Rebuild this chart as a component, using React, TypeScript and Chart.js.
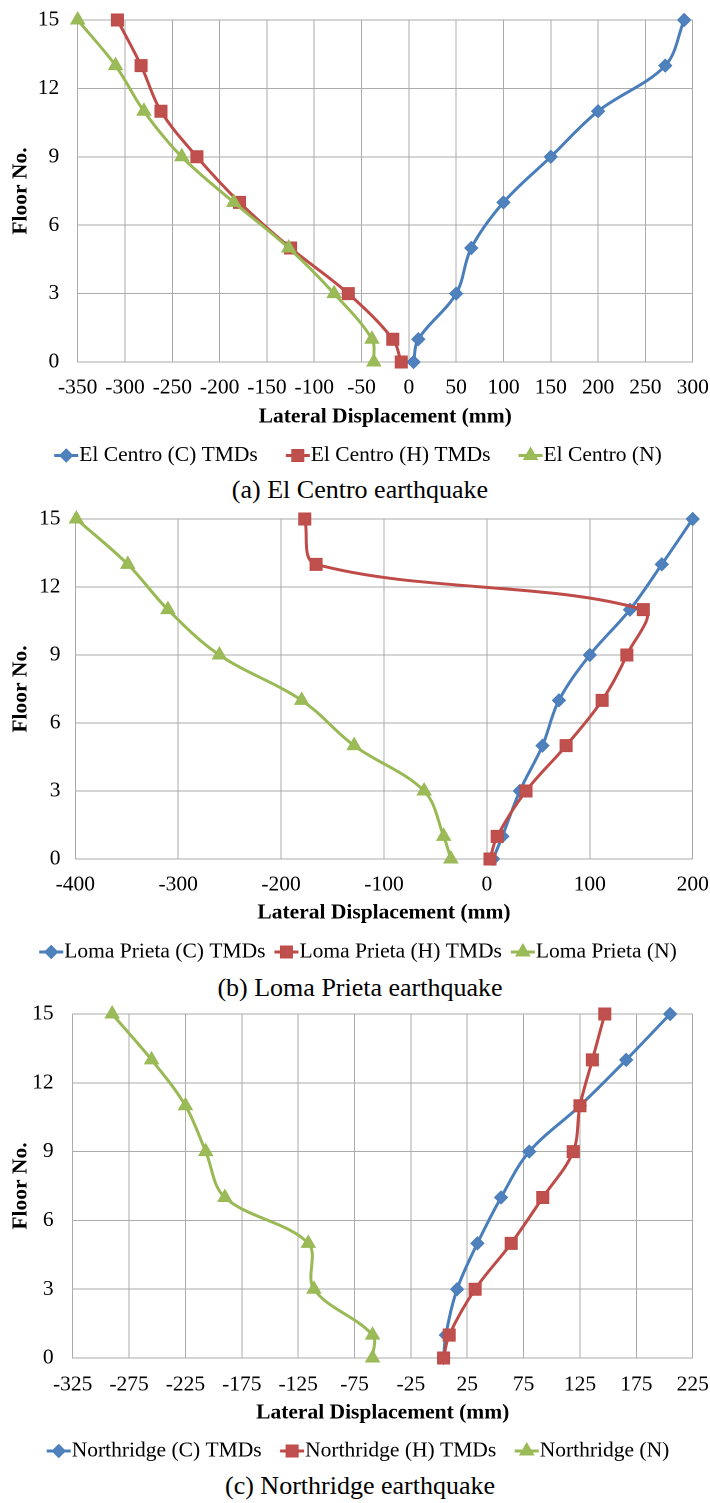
import React, { useEffect, useRef } from 'react';
import { Chart, registerables } from 'chart.js';

Chart.register(...registerables);

const FONT = "'Liberation Serif', 'Times New Roman', serif";
const PAGE_W = 710;

// ---------- data ----------
const floors = [0, 1, 3, 5, 7, 9, 11, 13, 15];
const yTicks = [0, 3, 6, 9, 12, 15];

const elCentroLabels = ['El Centro (C) TMDs', 'El Centro (H) TMDs', 'El Centro (N)'];
const elCentroC = [5, 10, 50, 66, 100, 150, 200, 271, 291];
const elCentroH = [-8, -17, -64, -125, -179, -224, -262, -283, -308];
const elCentroN = [-37, -39, -79, -127, -185, -240, -280, -310, -350];
const elCentroTicks = [-350, -300, -250, -200, -150, -100, -50, 0, 50, 100, 150, 200, 250, 300];

const lomaLabels = ['Loma Prieta (C) TMDs', 'Loma Prieta (H) TMDs', 'Loma Prieta (N)'];
const lomaC = [6, 15, 32, 54, 70, 100, 139, 170, 200];
const lomaH = [3, 10, 38, 77, 112, 136, 152, -166, -177];
const lomaN = [-35, -42, -61, -129, -180, -260, -310, -349, -399];
const lomaTicks = [-400, -300, -200, -100, 0, 100, 200];

const northLabels = ['Northridge (C) TMDs', 'Northridge (H) TMDs', 'Northridge (N)'];
const northC = [4, 6, 16, 34, 55, 80, 125, 166, 205];
const northH = [4, 9, 32, 64, 92, 119, 125, 136, 147];
const northN = [-59, -59, -111, -116, -190, -207, -225, -255, -290];
const northTicks = [-325, -275, -225, -175, -125, -75, -25, 25, 75, 125, 175, 225];

const xTitle = 'Lateral Displacement (mm)';
const yTitle = 'Floor No.';

// ---------- styles ----------
const seriesLine = ['#4A7EBB', '#BE4B48', '#98B954'];
const seriesFill = ['#4F81BD', '#C0504D', '#9BBB59'];
const seriesMarker = ['rectRot', 'rect', 'triangle'];
const seriesRadius = [6.5, 8.5, 8];
const GRID = '#ABABAB';
const FS = 21.5;
const HALF_LH = (FS * 1.2) / 2;

function drawMarker(ctx: CanvasRenderingContext2D, style: string, x: number, y: number, r: number) {
  ctx.beginPath();
  if (style === 'rectRot') {
    ctx.moveTo(x - r, y);
    ctx.lineTo(x, y - r);
    ctx.lineTo(x + r, y);
    ctx.lineTo(x, y + r);
    ctx.closePath();
  } else if (style === 'rect') {
    const s = r * Math.SQRT1_2;
    ctx.rect(x - s, y - s, 2 * s, 2 * s);
  } else {
    const a = (2 * Math.PI) / 3;
    ctx.moveTo(x, y - r);
    ctx.lineTo(x + r * Math.sin(a), y - r * Math.cos(a));
    ctx.lineTo(x + r * Math.sin(2 * a), y - r * Math.cos(2 * a));
    ctx.closePath();
  }
  ctx.fill();
  ctx.stroke();
}

const legendPlugin = {
  id: 'excelLegend',
  afterDraw(chart: any, _args: any, opts: any) {
    const ctx: CanvasRenderingContext2D = chart.ctx;
    const stub = 24;
    ctx.save();
    ctx.font = `${FS}px ${FONT}`;
    ctx.textBaseline = 'middle';
    ctx.textAlign = 'left';
    const items = chart.data.datasets.map((ds: any) => ({
      ds,
      w: stub + 1 + ctx.measureText(ds.label).width,
    }));
    const total = items.reduce((s: number, it: any) => s + it.w, 0) + opts.gap * (items.length - 1);
    let x = opts.cx - total / 2;
    const y = opts.y;
    items.forEach((it: any) => {
      const ds = it.ds;
      ctx.strokeStyle = ds.borderColor;
      ctx.lineWidth = 3;
      ctx.beginPath();
      ctx.moveTo(x, y);
      ctx.lineTo(x + stub, y);
      ctx.stroke();
      ctx.fillStyle = ds.pointBackgroundColor;
      ctx.strokeStyle = ds.pointBorderColor;
      ctx.lineWidth = 1;
      drawMarker(ctx, ds.pointStyle, x + stub / 2, y, ds.pointRadius);
      ctx.fillStyle = '#000';
      ctx.fillText(ds.label, x + stub + 1, y);
      x += it.w + opts.gap;
    });
    ctx.restore();
  },
};

type BlockCfg = {
  series: number[][];
  labels: string[];
  xMin: number;
  xMax: number;
  xTicks: number[];
  caption: string;
  top: number;
  plotTop: number;
  plotBottom: number;
  labelY: number;
  titleY: number;
  legendY: number;
  captionY: number;
  yW: number;
  yTickPad: number;
  legendGap: number;
};

const blocks: BlockCfg[] = [
  {
    series: [elCentroC, elCentroH, elCentroN], labels: elCentroLabels,
    xMin: -350, xMax: 300, xTicks: elCentroTicks, caption: '(a) El Centro earthquake',
    top: 0, plotTop: 20, plotBottom: 362, labelY: 388, titleY: 417, legendY: 455.5, captionY: 490,
    yW: 77.7, yTickPad: 18.4, legendGap: 28,
  },
  {
    series: [lomaC, lomaH, lomaN], labels: lomaLabels,
    xMin: -400, xMax: 200, xTicks: lomaTicks, caption: '(b) Loma Prieta earthquake',
    top: 499, plotTop: 519, plotBottom: 859, labelY: 885, titleY: 913, legendY: 952, captionY: 988,
    yW: 75.3, yTickPad: 14.8, legendGap: 9,
  },
  {
    series: [northC, northH, northN], labels: northLabels,
    xMin: -325, xMax: 225, xTicks: northTicks, caption: '(c) Northridge earthquake',
    top: 994, plotTop: 1014, plotBottom: 1358, labelY: 1385, titleY: 1413, legendY: 1451, captionY: 1486,
    yW: 72.7, yTickPad: 19.1, legendGap: 18.5,
  },
];

function zeroPadding(s: any) {
  s.paddingTop = 0;
  s.paddingBottom = 0;
  s.paddingLeft = 0;
  s.paddingRight = 0;
}

function ChartBlock({ cfg }: { cfg: BlockCfg }) {
  const ref = useRef<HTMLCanvasElement | null>(null);
  const height = Math.round(cfg.legendY + 17 - cfg.top);
  const xAxisH = cfg.titleY - cfg.plotBottom + HALF_LH;
  const xTickPad = cfg.labelY - cfg.plotBottom - HALF_LH;
  const padTop = cfg.plotTop - cfg.top;
  const padBottom = height - (cfg.plotBottom - cfg.top) - xAxisH;

  useEffect(() => {
    if (!ref.current) return;
    Chart.defaults.font.family = FONT;
    Chart.defaults.color = '#000';
    const chart = new Chart(ref.current, {
      type: 'scatter',
      data: {
        datasets: cfg.series.map((vals, i) => ({
          label: cfg.labels[i],
          data: floors.map((f, k) => ({ x: vals[k], y: f })),
          showLine: true,
          borderColor: seriesLine[i],
          backgroundColor: seriesFill[i],
          borderWidth: 3,
          tension: 0.35,
          pointStyle: seriesMarker[i] as any,
          pointRadius: seriesRadius[i],
          pointHoverRadius: seriesRadius[i],
          pointBackgroundColor: seriesFill[i],
          pointBorderColor: seriesLine[i],
          pointBorderWidth: 1,
          clip: false as any,
          order: 2 - i,
        })),
      },
      options: {
        animation: false,
        responsive: false,
        devicePixelRatio: 2,
        layout: { padding: { top: padTop, right: PAGE_W - 692.7, bottom: padBottom, left: 0 } },
        plugins: {
          legend: { display: false },
          tooltip: { enabled: false },
          excelLegend: { cx: 358, y: cfg.legendY - cfg.top, gap: cfg.legendGap },
        } as any,
        scales: {
          x: {
            type: 'linear',
            min: cfg.xMin,
            max: cfg.xMax,
            afterBuildTicks: (s: any) => {
              s.ticks = cfg.xTicks.map((v) => ({ value: v }));
            },
            afterFit: (s: any) => {
              s.height = xAxisH;
              zeroPadding(s);
            },
            grid: { color: GRID, lineWidth: 1, drawTicks: false },
            border: { color: GRID, width: 1 },
            ticks: {
              padding: xTickPad,
              font: { size: FS, family: FONT },
              color: '#000',
              maxRotation: 0,
              autoSkip: false,
              callback: (v: any) => String(v),
            },
            title: {
              display: true,
              text: xTitle,
              color: '#000',
              font: { size: FS, weight: 'bold', family: FONT },
              padding: { top: 0, bottom: 0 },
            },
          },
          y: {
            type: 'linear',
            min: 0,
            max: 15,
            afterBuildTicks: (s: any) => {
              s.ticks = yTicks.map((v) => ({ value: v }));
            },
            afterFit: (s: any) => {
              s.width = cfg.yW;
              zeroPadding(s);
            },
            grid: { color: GRID, lineWidth: 1, drawTicks: false },
            border: { color: GRID, width: 1 },
            ticks: {
              padding: cfg.yTickPad,
              font: { size: FS, family: FONT },
              color: '#000',
              autoSkip: false,
              callback: (v: any) => String(v),
            },
            title: {
              display: true,
              text: yTitle,
              color: '#000',
              font: { size: FS, weight: 'bold', family: FONT },
              padding: { top: 8.1, bottom: 0 },
            },
          },
        },
      } as any,
      plugins: [legendPlugin as any],
    });
    return () => chart.destroy();
  }, [cfg]);

  return (
    <>
      <canvas
        ref={ref}
        width={PAGE_W}
        height={height}
        style={{ position: 'absolute', left: 0, top: cfg.top, width: PAGE_W, height }}
      />
      <div
        style={{
          position: 'absolute',
          left: 10,
          width: 700,
          top: cfg.captionY - 16.17,
          height: 32,
          lineHeight: '32px',
          fontSize: 26,
          fontFamily: FONT,
          color: '#000',
          textAlign: 'center',
          whiteSpace: 'nowrap',
        }}
      >
        {cfg.caption}
      </div>
    </>
  );
}

export default function App() {
  useEffect(() => {
    document.documentElement.style.overflow = 'hidden';
    document.body.style.overflow = 'hidden';
  }, []);
  return (
    <div
      style={{
        position: 'absolute',
        left: 0,
        top: 0,
        width: PAGE_W,
        height: 1503,
        background: '#fff',
        overflow: 'hidden',
      }}
    >
      {blocks.map((b, i) => (
        <ChartBlock key={i} cfg={b} />
      ))}
    </div>
  );
}
